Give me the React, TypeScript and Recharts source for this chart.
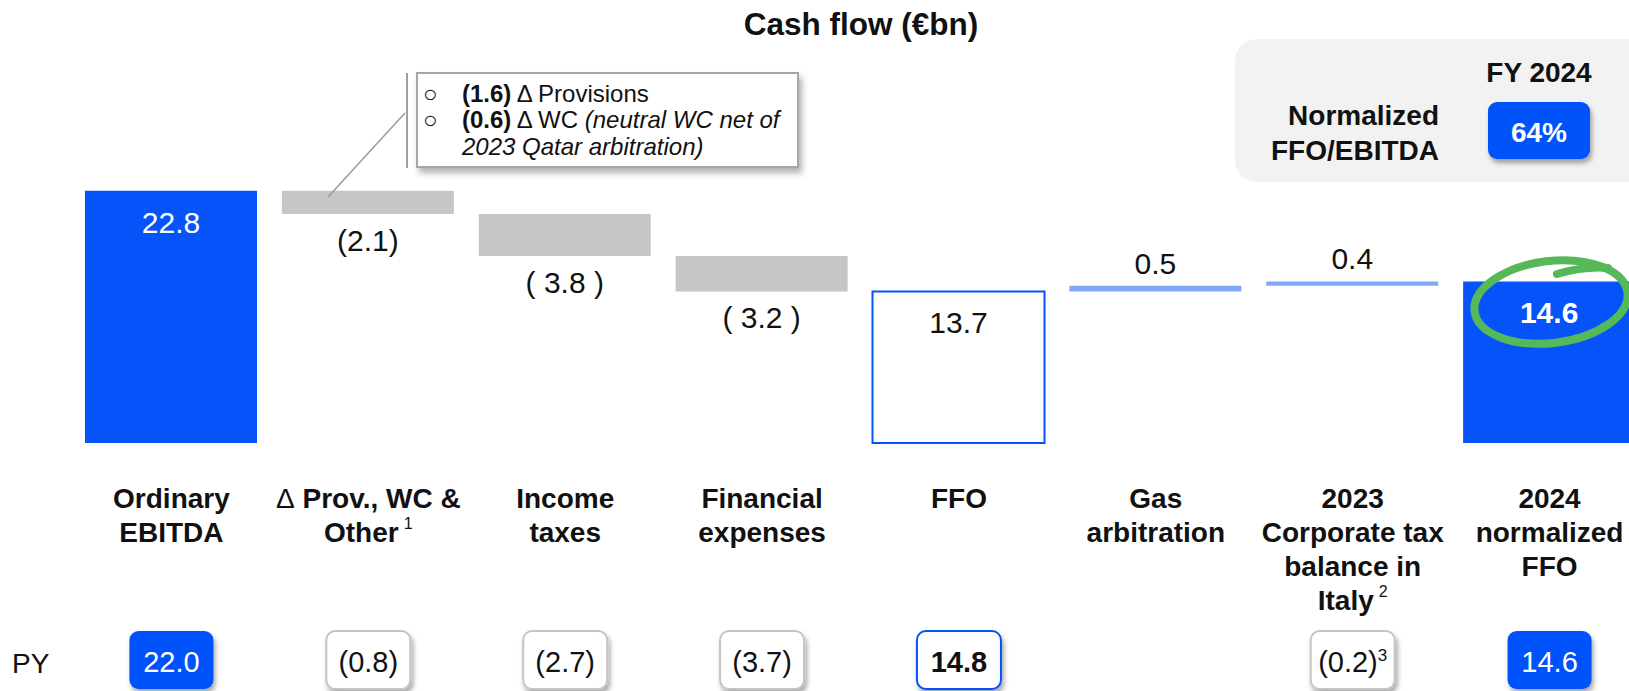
import React from "react";
import { BarChart, Bar, XAxis, YAxis, Cell, LabelList } from "recharts";

const FONT = "'Liberation Sans', Arial, Helvetica, sans-serif";
const BLUE = "#0653FA";
const GRAY = "#C6C6C6";
const LIGHT = "#80A8F8";

// ---- data ----
const categories = [
  "Ordinary EBITDA",
  "Δ Prov., WC & Other",
  "Income taxes",
  "Financial expenses",
  "FFO",
  "Gas arbitration",
  "2023 Corporate tax balance in Italy",
  "2024 normalized FFO",
];
const categoryLines = [
  ["Ordinary", "EBITDA"],
  ["Δ Prov., WC &", "Other"],
  ["Income", "taxes"],
  ["Financial", "expenses"],
  ["FFO"],
  ["Gas", "arbitration"],
  ["2023", "Corporate tax", "balance in", "Italy"],
  ["2024", "normalized", "FFO"],
];
const footnotes = ["", "1", "", "", "", "", "2", ""];
const values = [22.8, -2.1, -3.8, -3.2, 13.7, 0.5, 0.4, 14.6];
const kinds = ["total", "delta", "delta", "delta", "total", "delta", "delta", "total"];
const valueLabels = ["22.8", "(2.1)", "( 3.8 )", "( 3.2 )", "13.7", "0.5", "0.4", "14.6"];
const pyLabels = ["22.0", "(0.8)", "(2.7)", "(3.7)", "14.8", "", "(0.2)", "14.6"];
const pyNotes = ["", "", "", "", "", "", "3", ""];
const pyStyles = ["filled", "plain", "plain", "plain", "outlined", "none", "plain", "filled"];
const barFills = [BLUE, GRAY, GRAY, GRAY, "#FFFFFF", LIGHT, LIGHT, BLUE];
const labelColors = ["#FFFFFF", "#111", "#111", "#111", "#111", "#111", "#111", "#FFFFFF"];

let running = 0;
const data = categories.map((name, i) => {
  const v = values[i];
  let base = 0;
  let len = 0;
  if (kinds[i] === "total") {
    base = 0;
    len = v;
    running = v;
  } else if (v < 0) {
    base = running + v;
    len = -v;
    running = running + v;
  } else {
    base = running;
    len = v;
    running = running + v;
  }
  return { name, base, len };
});

const LABEL_Y0 = 508;
const LINE_H = 34;

const CategoryTick = (props: any) => {
  const { x, payload } = props;
  const i = categories.indexOf(payload.value);
  if (i < 0) return null;
  const lines = categoryLines[i];
  const style = pyStyles[i];
  return (
    <g>
      <text textAnchor="middle" fontFamily={FONT} fontWeight="bold" fontSize={28} fill="#111">
        {lines.map((l, k) => {
          const isLast = k === lines.length - 1;
          const hasDelta = l.startsWith("Δ");
          return (
            <tspan key={k} x={x} y={LABEL_Y0 + k * LINE_H}>
              {hasDelta ? (
                <>
                  <tspan fontWeight="normal">Δ</tspan>
                  <tspan>{l.slice(1)}</tspan>
                </>
              ) : (
                l
              )}
              {isLast && footnotes[i] ? (
                <tspan dx={5} dy={-13} fontSize={16} fontWeight="normal">
                  {footnotes[i]}
                </tspan>
              ) : null}
            </tspan>
          );
        })}
      </text>
      {style !== "none" && (
        <g>
          <rect
            x={x - 42}
            y={631}
            width={84}
            height={58}
            rx={9}
            fill={style === "filled" ? BLUE : "#FFFFFF"}
            stroke={style === "filled" ? "none" : style === "outlined" ? BLUE : "#C4C4C4"}
            strokeWidth={2}
            filter="url(#badgeShadow)"
          />
          <text
            x={x}
            y={672}
            textAnchor="middle"
            fontFamily={FONT}
            fontSize={29}
            fontWeight={style === "outlined" ? "bold" : "normal"}
            fill={style === "filled" ? "#FFFFFF" : "#111"}
          >
            {pyLabels[i]}
            {pyNotes[i] ? (
              <tspan dy={-11} fontSize={17}>
                {pyNotes[i]}
              </tspan>
            ) : null}
          </text>
        </g>
      )}
    </g>
  );
};

const ValueLabel = (props: any) => {
  const { x, y, width, height, value } = props;
  const i = categories.indexOf(value);
  if (i < 0) return null;
  const cx = Number(x) + Number(width) / 2;
  let ty = 0;
  if (kinds[i] === "total") ty = Number(y) + 42;
  else if (values[i] < 0) ty = Number(y) + Number(height) + 37;
  else ty = Number(y) - 12;
  return (
    <text
      x={cx}
      y={ty}
      textAnchor="middle"
      fontFamily={FONT}
      fontSize={30}
      fontWeight={i === 7 ? "bold" : "normal"}
      fill={labelColors[i]}
    >
      {valueLabels[i]}
    </text>
  );
};

export default function App() {
  return (
    <div
      style={{
        position: "absolute",
        left: 0,
        top: 0,
        width: 1629,
        height: 691,
        overflow: "hidden",
        background: "#FFFFFF",
      }}
    >
      <BarChart
        width={1648}
        height={691}
        data={data}
        margin={{ top: 111, right: 0, left: 73, bottom: 0 }}
        barSize={172}
      >
        <YAxis hide domain={[0, 30]} />
        <XAxis
          dataKey="name"
          height={248}
          interval={0}
          tickLine={false}
          axisLine={false}
          tick={<CategoryTick />}
        />
        <Bar dataKey="base" stackId="a" fill="transparent" isAnimationActive={false} />
        <Bar dataKey="len" stackId="a" isAnimationActive={false}>
          {data.map((d, i) => (
            <Cell
              key={d.name}
              fill={barFills[i]}
              stroke={i === 4 ? BLUE : "none"}
              strokeWidth={i === 4 ? 2 : 0}
            />
          ))}
          <LabelList dataKey="name" content={<ValueLabel />} />
        </Bar>
      </BarChart>

      <svg
        width={1629}
        height={691}
        style={{ position: "absolute", left: 0, top: 0, pointerEvents: "none" }}
      >
        <defs>
          <filter id="badgeShadow" x="-20%" y="-20%" width="150%" height="170%">
            <feDropShadow dx="2" dy="4" stdDeviation="2.5" floodColor="#000" floodOpacity="0.35" />
          </filter>
          <filter id="boxShadow" x="-10%" y="-20%" width="130%" height="160%">
            <feDropShadow dx="3" dy="5" stdDeviation="3" floodColor="#000" floodOpacity="0.3" />
          </filter>
        </defs>

        {/* Title */}
        <text x={861} y={35} textAnchor="middle" fontFamily={FONT} fontWeight="bold" fontSize={31.5} fill="#111">
          Cash flow (€bn)
        </text>

        {/* Annotation callout */}
        <line x1={407} y1={73} x2={407} y2={168} stroke="#A0A0A0" strokeWidth={2} />
        <line x1={405} y1={113} x2={328} y2={197} stroke="#9A9A9A" strokeWidth={1.5} />
        <rect x={417} y={73} width={381} height={94} fill="#FFFFFF" stroke="#A6A6A6" strokeWidth={2} filter="url(#boxShadow)" />
        <g fontFamily={FONT} fontSize={24} fill="#111">
          <text x={423} y={102} fontSize={24}>○</text>
          <text x={423} y={128} fontSize={24}>○</text>
          <text x={462} y={102}>
            <tspan fontWeight="bold">(1.6)</tspan>
            <tspan> Δ Provisions</tspan>
          </text>
          <text x={462} y={128}>
            <tspan fontWeight="bold">(0.6)</tspan>
            <tspan> Δ WC </tspan>
            <tspan fontStyle="italic">(neutral WC net of</tspan>
          </text>
          <text x={462} y={155} fontStyle="italic">
            2023 Qatar arbitration)
          </text>
        </g>

        {/* FY 2024 box */}
        <rect x={1235} y={39} width={430} height={143} rx={22} fill="#F2F2F2" />
        <text x={1539} y={82} textAnchor="middle" fontFamily={FONT} fontWeight="bold" fontSize={28} fill="#111">
          FY 2024
        </text>
        <text textAnchor="end" fontFamily={FONT} fontWeight="bold" fontSize={28} fill="#111">
          <tspan x={1439} y={125}>Normalized</tspan>
          <tspan x={1439} y={160}>FFO/EBITDA</tspan>
        </text>
        <rect x={1488} y={102} width={102} height={57} rx={9} fill={BLUE} filter="url(#badgeShadow)" />
        <text x={1539} y={142} textAnchor="middle" fontFamily={FONT} fontWeight="bold" fontSize={28} fill="#FFFFFF">
          64%
        </text>

        {/* Green highlight ellipse */}
        <g fill="none" stroke="#55B95A" strokeWidth={8} strokeLinecap="round">
          <ellipse cx={1551} cy={302} rx={77} ry={41} transform="rotate(-7 1551 302)" />
          <path d="M1557 274 Q1585 266 1608 268" />
        </g>

        {/* PY */}
        <text x={12} y={673} fontFamily={FONT} fontSize={28} fill="#111">
          PY
        </text>
      </svg>
    </div>
  );
}
